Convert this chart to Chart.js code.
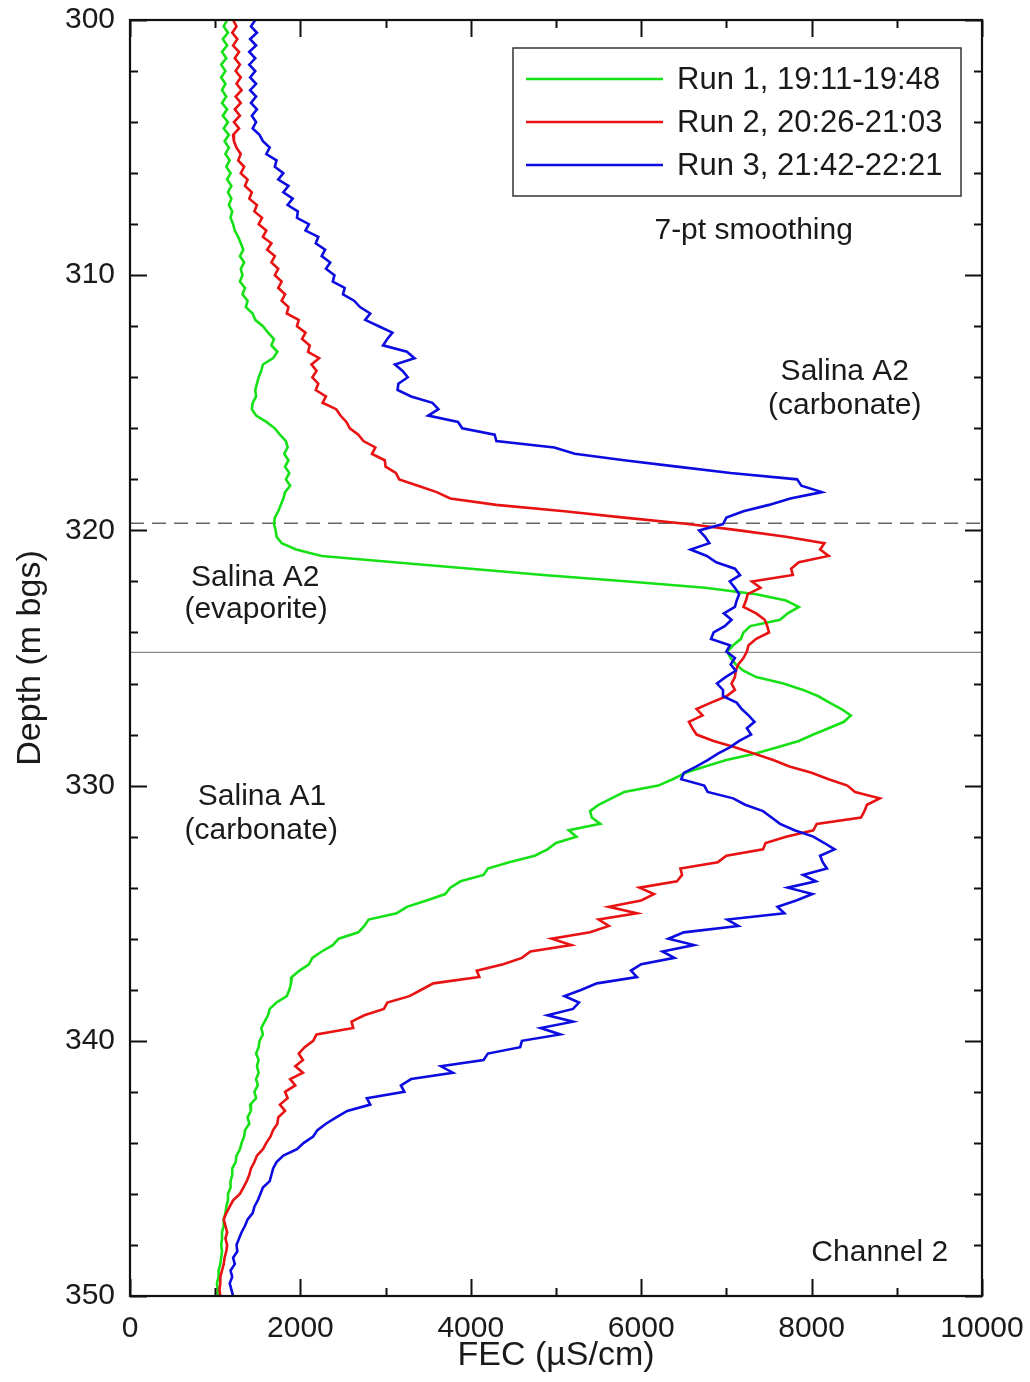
<!DOCTYPE html>
<html>
<head>
<meta charset="utf-8">
<script src="https://cdn.jsdelivr.net/npm/chart.js@4.4.1/dist/chart.umd.min.js"></script>
<style>
  html, body { margin: 0; padding: 0; background: #fff; }
  #wrap { width: 1030px; height: 1382px; position: relative; }
</style>
</head>
<body>
<div id="wrap"><canvas id="fecChart"></canvas></div>
<script>
// depth (m bgs), one row per metre, 0.25 m spacing
const depths = [
  300, 300.25, 300.5, 300.75, 301, 301.25, 301.5, 301.75, 302, 302.25, 302.5, 302.75,
  303, 303.25, 303.5, 303.75, 304, 304.25, 304.5, 304.75, 305, 305.25, 305.5, 305.75,
  306, 306.25, 306.5, 306.75, 307, 307.25, 307.5, 307.75, 308, 308.25, 308.5, 308.75,
  309, 309.25, 309.5, 309.75, 310, 310.25, 310.5, 310.75, 311, 311.25, 311.5, 311.75,
  312, 312.25, 312.5, 312.75, 313, 313.25, 313.5, 313.75, 314, 314.25, 314.5, 314.75,
  315, 315.25, 315.5, 315.75, 316, 316.25, 316.5, 316.75, 317, 317.25, 317.5, 317.75,
  318, 318.25, 318.5, 318.75, 319, 319.25, 319.5, 319.75, 320, 320.25, 320.5, 320.75,
  321, 321.25, 321.5, 321.75, 322, 322.25, 322.5, 322.75, 323, 323.25, 323.5, 323.75,
  324, 324.25, 324.5, 324.75, 325, 325.25, 325.5, 325.75, 326, 326.25, 326.5, 326.75,
  327, 327.25, 327.5, 327.75, 328, 328.25, 328.5, 328.75, 329, 329.25, 329.5, 329.75,
  330, 330.25, 330.5, 330.75, 331, 331.25, 331.5, 331.75, 332, 332.25, 332.5, 332.75,
  333, 333.25, 333.5, 333.75, 334, 334.25, 334.5, 334.75, 335, 335.25, 335.5, 335.75,
  336, 336.25, 336.5, 336.75, 337, 337.25, 337.5, 337.75, 338, 338.25, 338.5, 338.75,
  339, 339.25, 339.5, 339.75, 340, 340.25, 340.5, 340.75, 341, 341.25, 341.5, 341.75,
  342, 342.25, 342.5, 342.75, 343, 343.25, 343.5, 343.75, 344, 344.25, 344.5, 344.75,
  345, 345.25, 345.5, 345.75, 346, 346.25, 346.5, 346.75, 347, 347.25, 347.5, 347.75,
  348, 348.25, 348.5, 348.75, 349, 349.25, 349.5, 349.75, 350
];

// FEC (uS/cm)
const run1Fec = [
  1140, 1100, 1150, 1090, 1140, 1080, 1130, 1070, 1120, 1070, 1120, 1080,
  1130, 1080, 1140, 1090, 1150, 1100, 1160, 1110, 1160, 1120, 1170, 1130,
  1180, 1140, 1190, 1150, 1190, 1160, 1200, 1180, 1210, 1230, 1270, 1300,
  1330, 1290, 1340, 1300, 1320, 1290, 1350, 1320, 1380, 1360, 1440, 1470,
  1560, 1620, 1690, 1660, 1730, 1680, 1560, 1540, 1510, 1490, 1470, 1480,
  1440, 1430, 1480, 1600, 1700, 1760, 1830, 1850, 1810, 1860, 1820, 1870,
  1830, 1880, 1820, 1800, 1770, 1740, 1700, 1690, 1710, 1720, 1780, 1950,
  2250, 3100, 4000, 4850, 5850, 6750, 7350, 7700, 7850, 7720, 7630, 7280,
  7200, 7170, 7080, 7010, 7050, 7110, 7200, 7350, 7670, 7900, 8080, 8210,
  8350, 8460, 8380, 8200, 8020, 7850, 7600, 7330, 7000, 6750, 6520, 6370,
  6200, 5800, 5650, 5500, 5400, 5420, 5520, 5150, 5240, 5000, 4900, 4750,
  4450, 4200, 4150, 3880, 3760, 3700, 3480, 3250, 3130, 2800, 2750, 2680,
  2450, 2380, 2250, 2140, 2100, 1990, 1900, 1890, 1870, 1840, 1720, 1640,
  1620, 1580, 1540, 1560, 1520, 1510, 1480, 1510, 1490, 1510, 1480, 1500,
  1460, 1480, 1410, 1420, 1380, 1400, 1350, 1340, 1310, 1290, 1250, 1240,
  1200, 1200, 1180, 1180, 1150, 1150, 1130, 1120, 1100, 1100, 1080, 1080,
  1070, 1080, 1070, 1060, 1040, 1040, 1020, 1030, 1030
];
const run2Fec = [
  1210, 1250, 1200, 1260, 1210, 1280, 1230, 1290, 1240, 1300, 1250, 1310,
  1240, 1300, 1230, 1290, 1220, 1280, 1210, 1220, 1250, 1300, 1270, 1340,
  1300, 1380, 1350, 1430, 1400, 1490, 1460, 1550, 1510, 1600, 1560, 1660,
  1610, 1700, 1660, 1740, 1700, 1780, 1740, 1820, 1780, 1860, 1840, 1980,
  1960, 2060, 2020, 2110, 2090, 2220, 2130, 2190, 2140, 2210, 2180, 2300,
  2260, 2420, 2470, 2540, 2580, 2680, 2740, 2880, 2840, 2990, 3000, 3120,
  3160, 3380, 3600, 3760, 4300, 5100, 5800, 6550, 7150, 7700, 8150, 8100,
  8200, 7850, 7760, 7780, 7300, 7400, 7250, 7230, 7200, 7350, 7450, 7480,
  7500, 7350, 7260, 7240, 7200, 7140, 7110, 7100, 7060, 7100, 7000, 6820,
  6650, 6720, 6560, 6600, 6650, 6850, 7100, 7330, 7550, 7740, 8000, 8200,
  8420, 8510, 8800, 8650, 8620, 8580, 8060, 8020, 7700, 7460, 7430, 7000,
  6900, 6460, 6480, 6420, 5980, 6150, 6000, 5620, 5950, 5500, 5620, 5400,
  4950, 5180, 4700, 4600, 4380, 4070, 4100, 3560, 3420, 3280, 3020, 2980,
  2750, 2600, 2620, 2190, 2150, 2050, 1980, 2030, 1940, 2030, 1880, 1940,
  1820, 1850, 1760, 1820, 1740, 1730, 1680, 1650, 1600, 1560, 1490, 1460,
  1420, 1400, 1370, 1330, 1290, 1210, 1170, 1130, 1100, 1120, 1140, 1120,
  1140, 1130, 1110, 1100, 1080, 1060, 1060, 1050, 1060
];
const run3Fec = [
  1470, 1420, 1490, 1410, 1480, 1400, 1470, 1400, 1470, 1410, 1480, 1410,
  1480, 1420, 1490, 1430, 1480, 1440, 1520, 1560, 1640, 1600, 1720, 1700,
  1800, 1740, 1860, 1800, 1910, 1850, 1970, 1960, 2100, 2060, 2210, 2180,
  2290, 2250, 2350, 2300, 2400, 2380, 2520, 2500, 2630, 2700, 2820, 2760,
  2920, 3080, 3020, 2970, 3250, 3340, 3110, 3200, 3260, 3150, 3140, 3300,
  3550, 3620, 3500, 3850, 3900, 4280, 4300, 4980, 5220, 5800, 6420, 7050,
  7830, 7880, 8120, 7750, 7500, 7200, 7000, 6960, 6680, 6750, 6800, 6580,
  6770, 6880, 7100, 7160, 7040, 7100, 7150, 7120, 7100, 6970, 7060, 6980,
  6850, 6820, 7040, 7000, 7100, 7050, 7110, 6990, 6890, 6960, 6960, 7120,
  7180, 7260, 7330, 7240, 7290, 7150, 7040, 6900, 6780, 6650, 6500, 6470,
  6740, 6780, 7080, 7220, 7430, 7530, 7630, 7800, 8020, 8150, 8270, 8100,
  8130, 8180, 7900, 8050, 7720, 8010, 7820, 7600, 7680, 7010, 7140, 6500,
  6320, 6620, 6250, 6390, 6000, 5880, 5950, 5480, 5300, 5100, 5270, 5200,
  4900, 5200, 4820, 5050, 4600, 4580, 4200, 4150, 3650, 3790, 3300, 3180,
  3220, 2780, 2820, 2550, 2420, 2300, 2200, 2150, 2040, 1960, 1800, 1720,
  1680, 1660, 1640, 1560, 1530, 1500, 1460, 1440, 1380, 1350, 1310, 1280,
  1250, 1260, 1210, 1230, 1180, 1200, 1170, 1190, 1210
];

const runLabels = ['Run 1, 19:11-19:48', 'Run 2, 20:26-21:03', 'Run 3, 21:42-22:21'];
const runColors = ['#16e016', '#e81212', '#0c0ce0'];

// formation contacts (m bgs)
const contactDashed = 319.72;
const contactSolid = 324.78;

const depthTicks = [300, 310, 320, 330, 340, 350];
const fecTicks = [0, 2000, 4000, 6000, 8000, 10000];

// text notes: [fec, depth, text]
const notes = [
  [7320, 308.25, '7-pt smoothing'],
  [8390, 313.8, 'Salina A2'],
  [8390, 315.1, '(carbonate)'],
  [1470, 321.85, 'Salina A2'],
  [1480, 323.1, '(evaporite)'],
  [1550, 330.45, 'Salina A1'],
  [1540, 331.75, '(carbonate)'],
  [8800, 348.3, 'Channel 2']
];

const FONT = '"Liberation Sans", Arial, Helvetica, sans-serif';

function toPoints(vals) {
  return vals.map((v, i) => ({ x: v, y: depths[i] }));
}

const runs = [run1Fec, run2Fec, run3Fec].map((vals, i) => ({
  label: runLabels[i],
  data: toPoints(vals),
  borderColor: runColors[i],
  backgroundColor: runColors[i],
  borderWidth: 2.6,
  pointRadius: 0,
  tension: 0,
  showLine: true,
  order: 3 - i
}));

const contacts = [
  {
    label: 'contact1',
    data: [{ x: 0, y: contactDashed }, { x: 10000, y: contactDashed }],
    borderColor: '#666',
    borderWidth: 1.6,
    borderDash: [14, 8],
    pointRadius: 0,
    showLine: true,
    order: 10
  },
  {
    label: 'contact2',
    data: [{ x: 0, y: contactSolid }, { x: 10000, y: contactSolid }],
    borderColor: '#888',
    borderWidth: 1.4,
    pointRadius: 0,
    showLine: true,
    order: 10
  }
];

// box and inward ticks on all four sides
const frameTicks = {
  id: 'frameTicks',
  afterDatasetsDraw(chart) {
    const { ctx, chartArea: a, scales: { x, y } } = chart;
    ctx.save();
    ctx.strokeStyle = '#111';
    ctx.lineWidth = 2;
    ctx.beginPath();
    for (let d = 300; d <= 350; d += 2) {
      const py = Math.round(y.getPixelForValue(d)) + 0.5;
      const len = d % 10 === 0 ? 17 : 8;
      ctx.moveTo(a.left, py); ctx.lineTo(a.left + len, py);
      ctx.moveTo(a.right, py); ctx.lineTo(a.right - len, py);
    }
    for (let v = 0; v <= 10000; v += 1000) {
      const px = Math.round(x.getPixelForValue(v)) + 0.5;
      const len = v % 2000 === 0 ? 17 : 8;
      ctx.moveTo(px, a.bottom); ctx.lineTo(px, a.bottom - len);
      ctx.moveTo(px, a.top); ctx.lineTo(px, a.top + len);
    }
    ctx.stroke();
    ctx.lineWidth = 2.2;
    ctx.strokeRect(a.left, a.top, a.right - a.left, a.bottom - a.top);
    ctx.restore();
  }
};

// legend box and notes
const notesLegend = {
  id: 'notesLegend',
  afterDraw(chart) {
    const { ctx, scales: { x, y } } = chart;
    ctx.save();
    ctx.font = '30px ' + FONT;
    ctx.fillStyle = '#1a1a1a';
    ctx.textAlign = 'center';
    ctx.textBaseline = 'middle';
    notes.forEach(n => {
      ctx.fillText(n[2], x.getPixelForValue(n[0]), y.getPixelForValue(n[1]));
    });

    const bx = 513, by = 48, bw = 448, bh = 148;
    ctx.fillStyle = '#fff';
    ctx.fillRect(bx, by, bw, bh);
    ctx.strokeStyle = '#333';
    ctx.lineWidth = 1.5;
    ctx.strokeRect(bx, by, bw, bh);
    ctx.textAlign = 'left';
    ctx.font = '31px ' + FONT;
    runs.forEach((r, i) => {
      const ly = 79 + i * 43;
      ctx.strokeStyle = r.borderColor;
      ctx.lineWidth = 2.6;
      ctx.beginPath();
      ctx.moveTo(526, ly);
      ctx.lineTo(663, ly);
      ctx.stroke();
      ctx.fillStyle = '#1a1a1a';
      ctx.fillText(r.label, 677, ly + 1);
    });
    ctx.restore();
  }
};

new Chart(document.getElementById('fecChart'), {
  type: 'scatter',
  data: { datasets: runs.concat(contacts) },
  options: {
    responsive: true,
    maintainAspectRatio: false,
    animation: false,
    events: [],
    layout: { padding: { top: 20, right: 48, left: 0, bottom: 0 } },
    plugins: {
      legend: { display: false },
      tooltip: { enabled: false }
    },
    scales: {
      x: {
        type: 'linear',
        min: 0,
        max: 10000,
        afterFit: s => { s.height = 86; s.paddingLeft = 0; s.paddingRight = 0; },
        afterBuildTicks: s => { s.ticks = fecTicks.map(v => ({ value: v })); },
        grid: { display: false, drawTicks: false },
        border: { display: false },
        ticks: {
          color: '#1a1a1a',
          font: { family: FONT, size: 30 },
          padding: 15,
          maxRotation: 0,
          callback: v => String(v)
        },
        title: {
          display: true,
          text: 'FEC (µS/cm)',
          color: '#1a1a1a',
          font: { family: FONT, size: 34 },
          padding: { top: 0, bottom: 6 }
        }
      },
      y: {
        type: 'linear',
        reverse: true,
        min: 300,
        max: 350,
        afterFit: s => { s.width = 130; s.paddingTop = 0; s.paddingBottom = 0; },
        afterBuildTicks: s => { s.ticks = depthTicks.map(v => ({ value: v })); },
        grid: { display: false, drawTicks: false },
        border: { display: false },
        ticks: {
          color: '#1a1a1a',
          font: { family: FONT, size: 30 },
          padding: 15,
          callback: v => String(v)
        },
        title: {
          display: true,
          text: 'Depth (m bgs)',
          color: '#1a1a1a',
          font: { family: FONT, size: 34 },
          padding: { top: 10, bottom: 0 }
        }
      }
    }
  },
  plugins: [frameTicks, notesLegend]
});
</script>
</body>
</html>
